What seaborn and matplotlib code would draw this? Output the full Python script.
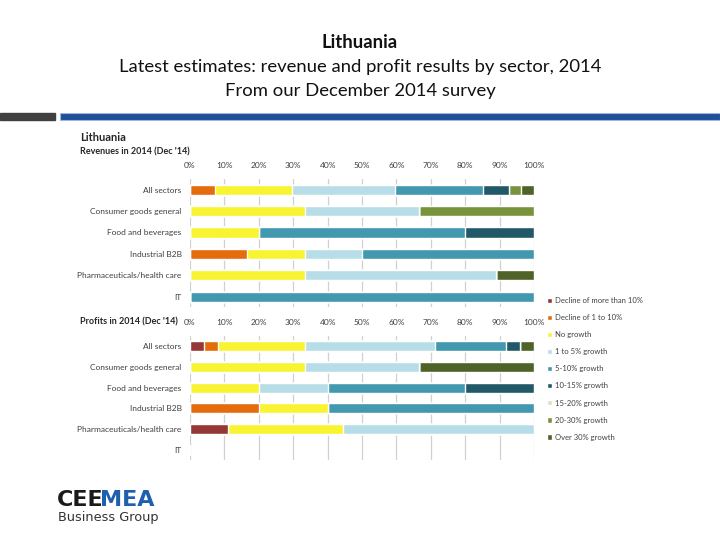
import pandas as pd
import seaborn as sns
import matplotlib.pyplot as plt
from matplotlib.patches import Patch, Rectangle

# dados
setores = ["All sectors", "Consumer goods general", "Food and beverages",
           "Industrial B2B", "Pharmaceuticals/health care", "IT"]
faixas = ["Decline of more than 10%", "Decline of 1 to 10%", "No growth",
          "1 to 5% growth", "5-10% growth", "10-15% growth",
          "15-20% growth", "20-30% growth", "Over 30% growth"]
cores = ["#953735", "#E46C0A", "#F8F432", "#B7DEE8", "#4198AF",
         "#215968", "#D7E4BD", "#77933C", "#4F6228"]
ticks = [0, 10, 20, 30, 40, 50, 60, 70, 80, 90, 100]

# receitas (% por faixa, mesma ordem de faixas)
rec_all = [0, 7.3, 22.3, 29.9, 25.8, 7.3, 0, 3.7, 3.7]
rec_consumer = [0, 0, 33.3, 33.3, 0, 0, 0, 33.4, 0]
rec_food = [0, 0, 20, 0, 60, 20, 0, 0, 0]
rec_industrial = [0, 16.7, 16.7, 16.6, 50, 0, 0, 0, 0]
rec_pharma = [0, 0, 33.3, 55.6, 0, 0, 0, 0, 11.1]
rec_it = [0, 0, 0, 0, 100, 0, 0, 0, 0]

# lucros
luc_all = [4.1, 4.1, 25.1, 37.9, 20.6, 4.1, 0, 0, 4.1]
luc_consumer = [0, 0, 33.3, 33.3, 0, 0, 0, 0, 33.4]
luc_food = [0, 0, 20, 20, 40, 20, 0, 0, 0]
luc_industrial = [0, 20, 20, 0, 60, 0, 0, 0, 0]
luc_pharma = [11.1, 0, 33.3, 55.6, 0, 0, 0, 0, 0]
luc_it = [0, 0, 0, 0, 0, 0, 0, 0, 0]

receitas = [rec_all, rec_consumer, rec_food, rec_industrial, rec_pharma, rec_it]
lucros = [luc_all, luc_consumer, luc_food, luc_industrial, luc_pharma, luc_it]

W, H = 720, 540


def px(x, y):
    return x / W, 1 - y / H


def monta_df(linhas):
    registros = []
    for setor, valores in zip(setores, linhas):
        acum = 0
        for faixa, v in zip(faixas, valores):
            acum += v
            registros.append({"setor": setor, "faixa": faixa, "valor": v, "acum": acum})
    return pd.DataFrame(registros)


def desenha(ax, df):
    # barras empilhadas: desenha do acumulado maior para o menor
    for faixa, cor in reversed(list(zip(faixas, cores))):
        parte = df[df["faixa"] == faixa]
        sns.barplot(data=parte, x="acum", y="setor", order=setores, color=cor,
                    saturation=1, width=0.48, orient="h", ax=ax, zorder=3)
    ax.set_xlim(0, 100)
    ax.set_ylim(5.5, -0.5)
    ax.set_xticks(ticks)
    ax.set_xticklabels([f"{t}%" for t in ticks])
    ax.xaxis.tick_top()
    ax.tick_params(axis="x", length=0, pad=7, labelsize=6, labelcolor="#404040")
    ax.tick_params(axis="y", length=0, pad=6, labelsize=6, labelcolor="#404040")
    ax.grid(axis="x", color="#D0D0D0", linewidth=0.9, zorder=0)
    ax.grid(axis="y", visible=False)
    ax.set_axisbelow(True)
    for s in ax.spines.values():
        s.set_visible(False)
    ax.set_xlabel("")
    ax.set_ylabel("")


sns.set_theme(style="white")
plt.rcParams["font.family"] = ["Lato", "DejaVu Sans"]

fig = plt.figure(figsize=(7.2, 5.4), dpi=100)

# títulos
fig.text(*px(360, 43), "Lithuania", ha="center", va="center", fontsize=13.3, fontweight="bold",
         color="#111111")
fig.text(*px(360, 67), "Latest estimates: revenue and profit results by sector, 2014",
         ha="center", va="center", fontsize=13.3, color="#111111")
fig.text(*px(360, 91), "From our December 2014 survey", ha="center", va="center",
         fontsize=13.3, color="#111111")

# faixa do cabeçalho
fig.patches.append(Rectangle(px(0, 120), 55 / W, 7 / H, transform=fig.transFigure,
                             color="#404040", zorder=0))
fig.patches.append(Rectangle(px(60, 120), 660 / W, 7 / H, transform=fig.transFigure,
                             facecolor="#1F4E9A", edgecolor="#9DB7DD", linewidth=0.8, zorder=0))

# painéis
ax1 = fig.add_axes([190 / W, 1 - 307.4 / H, 344 / W, 128.4 / H])
desenha(ax1, monta_df(receitas))
ax2 = fig.add_axes([190 / W, 1 - 460.4 / H, 344 / W, 124.8 / H])
desenha(ax2, monta_df(lucros))

fig.text(*px(80, 137), "Lithuania", ha="left", va="center", fontsize=8, fontweight="bold", color="#262626")
fig.text(*px(80, 152), "Revenues in 2014 (Dec '14)", ha="left", va="center", fontsize=6.5,
         fontweight="bold", color="#262626")
fig.text(*px(80, 322), "Profits in 2014 (Dec '14)", ha="left", va="center", fontsize=6.5,
         fontweight="bold", color="#262626")

# legenda
handles = [Patch(facecolor=c, label=f) for f, c in zip(faixas, cores)]
fig.legend(handles=handles, loc="upper left", bbox_to_anchor=px(544, 294), frameon=False,
           fontsize=5.5, labelcolor="#404040", handlelength=0.65, handleheight=0.65,
           handletextpad=0.4, labelspacing=1.32, borderaxespad=0)

# logo
fig.text(*px(57, 500), "CEE", ha="left", va="center", fontsize=16, fontweight="bold",
         family="DejaVu Sans", color="#1A1A1A")
fig.text(*px(99.5, 500), "MEA", ha="left", va="center", fontsize=16, fontweight="bold",
         family="DejaVu Sans", color="#1F5FAE")
fig.text(*px(58, 517), "Business Group", ha="left", va="center", fontsize=9.3,
         family="DejaVu Sans", color="#333333")

fig.savefig("out.png", dpi=100)
